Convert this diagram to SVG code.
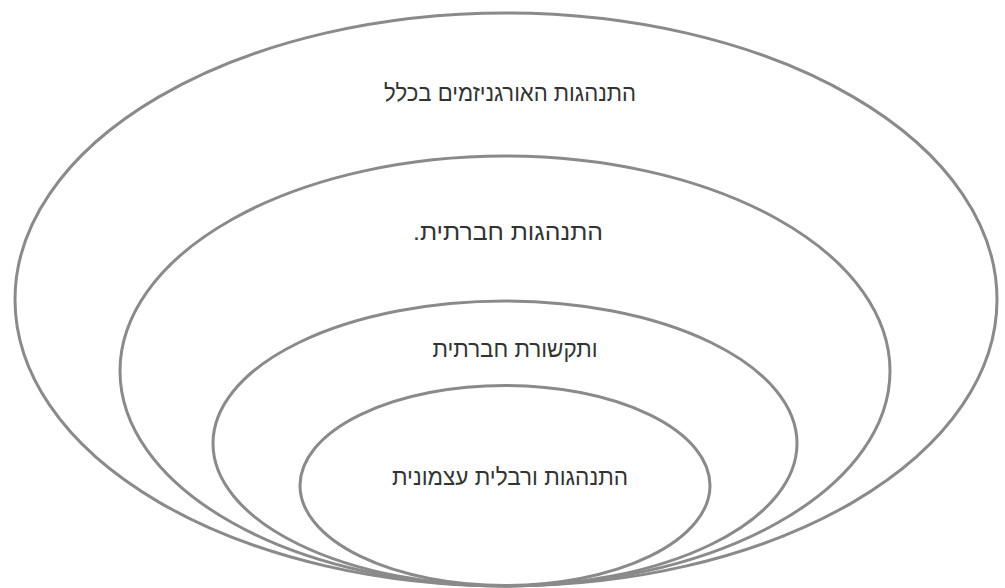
<svg xmlns="http://www.w3.org/2000/svg" width="1005" height="588" viewBox="0 0 1005 588">
<style>
.ring{fill:none;stroke:#8a8a8a;stroke-width:3}
.lbl{font-family:"Liberation Sans","DejaVu Sans",sans-serif;font-size:24px;fill:#333;text-anchor:middle;direction:rtl}
</style>
<rect width="1005" height="588" fill="#fff"/>
<g id="ring1"><ellipse class="ring" cx="506" cy="299.5" rx="491" ry="286.5"/>
<text class="lbl" x="510" y="101" textLength="252" lengthAdjust="spacingAndGlyphs">התנהגות האורגניזמים בכלל</text></g>
<g id="ring2"><ellipse class="ring" cx="505" cy="371" rx="385" ry="215"/>
<text class="lbl" x="508" y="240" textLength="190" lengthAdjust="spacingAndGlyphs">התנהגות חברתית.</text></g>
<g id="ring3"><ellipse class="ring" cx="505" cy="443.5" rx="292" ry="142.5"/>
<text class="lbl" x="515" y="357" textLength="165" lengthAdjust="spacingAndGlyphs">ותקשורת חברתית</text></g>
<g id="ring4"><ellipse class="ring" cx="505" cy="485.5" rx="205" ry="100"/>
<text class="lbl" x="510" y="485" textLength="236" lengthAdjust="spacingAndGlyphs">התנהגות ורבלית עצמונית</text></g>
<g id="connectors"/>
</svg>
